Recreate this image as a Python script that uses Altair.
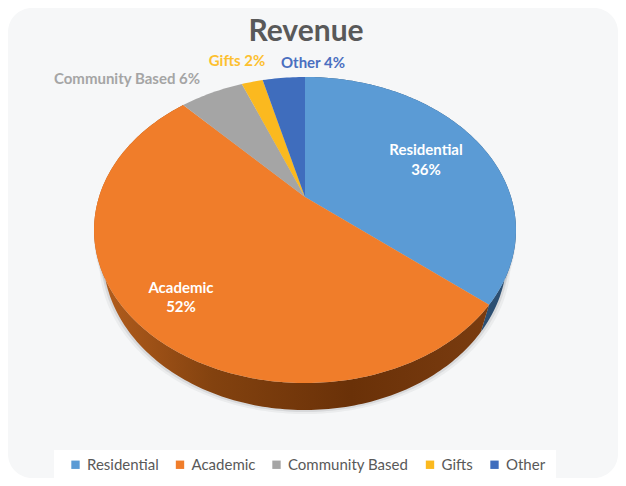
import math
import altair as alt

names = ["Residential", "Academic", "Community Based", "Gifts", "Other"]
shares = [36, 52, 6, 2, 4]
colors = ["#5b9bd5", "#f07d2a", "#a5a5a5", "#fbb91f", "#3f6dbd"]
chart_title = "Revenue"

W, H = 610, 470
FONT = "Lato"

# 3D look: perspective mapping of a unit disc, apex and depth in pixels
CX, CY, A, B, P, DEPTH, NARROW = 297, 189, 206, 145.9, 0.2157, 27, 0.956


def pt(frac, dy=0, s=1.0):
    t = 2 * math.pi * frac
    u, v = math.sin(t), math.cos(t)
    w = 1 + P * v
    return [CX + s * A * u / w, CY - B * v / w + dy]


def arc(f0, f1, dy=0, s=1.0):
    n = max(2, int((f1 - f0) * 360))
    return [pt(f0 + (f1 - f0) * i / n, dy, s) for i in range(n + 1)]


def feature(ring, name):
    ring = ring + [ring[0]]
    return {"type": "Feature", "properties": {"name": name},
            "geometry": {"type": "Polygon", "coordinates": [ring]}}


tops, walls = [], []
cum = 0
for name, s in zip(names, shares):
    f0, f1 = cum / 100, (cum + s) / 100
    tops.append(feature([[CX, CY]] + arc(f0, f1), name))
    walls.append(feature(arc(f0, f1) + arc(f0, f1, DEPTH, NARROW)[::-1], name))
    cum += s

PROJ = dict(type="identity", scale=1, translate=[0, 0])

panel = alt.Chart(alt.Data(values=[{"a": 1}])).mark_rect(
    color="#f6f7f8", cornerRadius=24
).encode(x=alt.value(0), x2=alt.value(W), y=alt.value(0), y2=alt.value(H))

legend_box = alt.Chart(alt.Data(values=[{"a": 1}])).mark_rect(
    color="#ffffff"
).encode(x=alt.value(46), x2=alt.value(548), y=alt.value(442), y2=alt.value(470))

shadows = [
    alt.Chart(alt.Data(values=[feature(arc(0, 1, d, s), "shadow")]))
    .mark_geoshape(fill="#8a8f96", opacity=op, strokeWidth=0)
    .project(**PROJ)
    for s, d, op in [(1.0, 6, 0.08), (1.0, 3, 0.12), (0.975, 31, 0.1), (0.965, 29, 0.2)]
]

wall_res = alt.Chart(alt.Data(values=[walls[0]])).mark_geoshape(
    fill="#2c4f72", strokeWidth=0).project(**PROJ)
wall_aca = alt.Chart(alt.Data(values=[walls[1]])).mark_geoshape(
    fill=alt.LinearGradient(
        gradient="linear", x1=0, x2=1, y1=0, y2=0,
        stops=[alt.GradientStop(offset=0, color="#b65f1e"),
               alt.GradientStop(offset=0.3, color="#83420f"),
               alt.GradientStop(offset=0.65, color="#6a3108"),
               alt.GradientStop(offset=1, color="#7a3c10")]),
    strokeWidth=0).project(**PROJ)

top = alt.Chart(alt.Data(values=tops)).mark_geoshape(strokeWidth=0).encode(
    color=alt.Color(
        "properties.name:N",
        scale=alt.Scale(domain=names, range=colors),
        sort=names,
        legend=alt.Legend(
            title=None, orient="none", legendX=60, legendY=449,
            direction="horizontal", columns=5, symbolType="square",
            symbolSize=70, symbolStrokeWidth=0, labelFont=FONT, labelFontSize=15,
            labelColor="#595959", labelOffset=4, columnPadding=13.5,
            padding=0, labelLimit=200),
    )
).project(**PROJ)


def label(txt, x, y, color, size=15):
    return alt.Chart(alt.Data(values=[{"t": txt}])).mark_text(
        font=FONT, fontWeight="bold", fontSize=size, color=color,
        align="center", baseline="middle",
    ).encode(text="t:N", x=alt.value(x), y=alt.value(y))


labels = [
    label(chart_title, 298, 24, "#595959", 30),
    label(names[0], 418, 142, "#ffffff"),
    label(f"{shares[0]}%", 418, 162, "#ffffff"),
    label(names[1], 173, 280, "#ffffff"),
    label(f"{shares[1]}%", 173, 299, "#ffffff"),
    label(f"{names[2]} {shares[2]}%", 119, 71, colors[2]),
    label(f"{names[3]} {shares[3]}%", 229, 53, "#fdc02f"),
    label(f"{names[4]} {shares[4]}%", 305, 55, "#4a6fc0"),
]

chart = alt.layer(panel, legend_box, *shadows, wall_res, wall_aca, top, *labels).properties(
    width=W, height=H,
    padding=0,
    autosize=alt.AutoSizeParams(type="none"),
    background="#ffffff",
).configure_view(stroke=None)

chart.save("out.html", embed_options={"renderer": "svg", "actions": False})
